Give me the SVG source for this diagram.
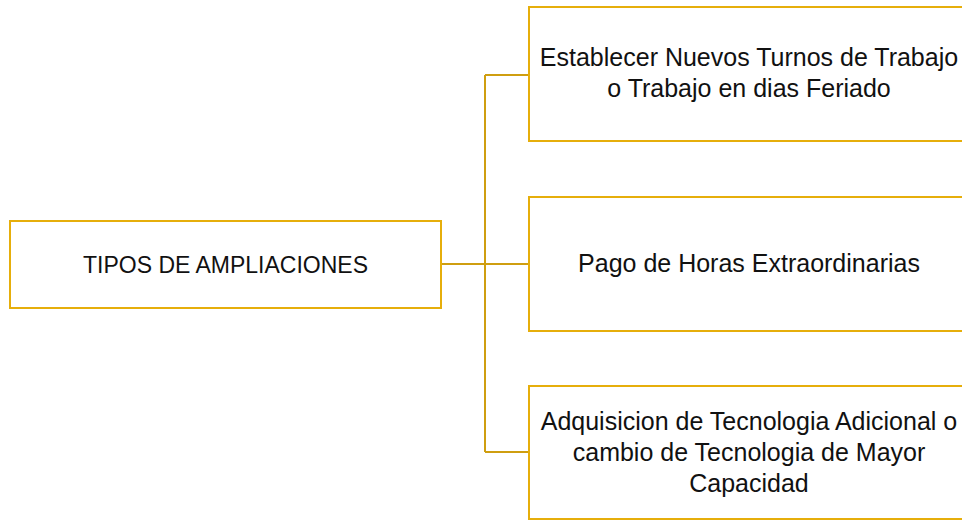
<svg xmlns="http://www.w3.org/2000/svg" width="962" height="521" viewBox="0 0 962 521">
<style>
.box{fill:#fff;stroke:#E6AE0B;stroke-width:2}
.con{fill:none;stroke:#CF9E10;stroke-width:2}
text{font-family:"Liberation Sans",Arial,sans-serif;font-size:25px;fill:#111;text-anchor:middle}
.r{font-size:23px}
</style>
<rect width="962" height="521" fill="#fff"/>
<g id="connectors">
<path class="con" d="M441,264 H529 M485,75 V452 M485,75 H529 M485,452 H529"/>
</g>
<g id="root">
<rect class="box" x="10" y="221" width="431" height="87"/>
<text class="r" x="225.5" y="273">TIPOS DE AMPLIACIONES</text>
</g>
<g id="n1">
<rect class="box" x="529" y="7" width="440" height="134"/>
<text x="749" y="66">Establecer Nuevos Turnos de Trabajo</text>
<text x="749" y="97">o Trabajo en dias Feriado</text>
</g>
<g id="n2">
<rect class="box" x="529" y="197" width="440" height="134"/>
<text x="749" y="272">Pago de Horas Extraordinarias</text>
</g>
<g id="n3">
<rect class="box" x="529" y="386" width="440" height="133"/>
<text x="749" y="430">Adquisicion de Tecnologia Adicional o</text>
<text x="749" y="461">cambio de Tecnologia de Mayor</text>
<text x="749" y="492">Capacidad</text>
</g>
</svg>
